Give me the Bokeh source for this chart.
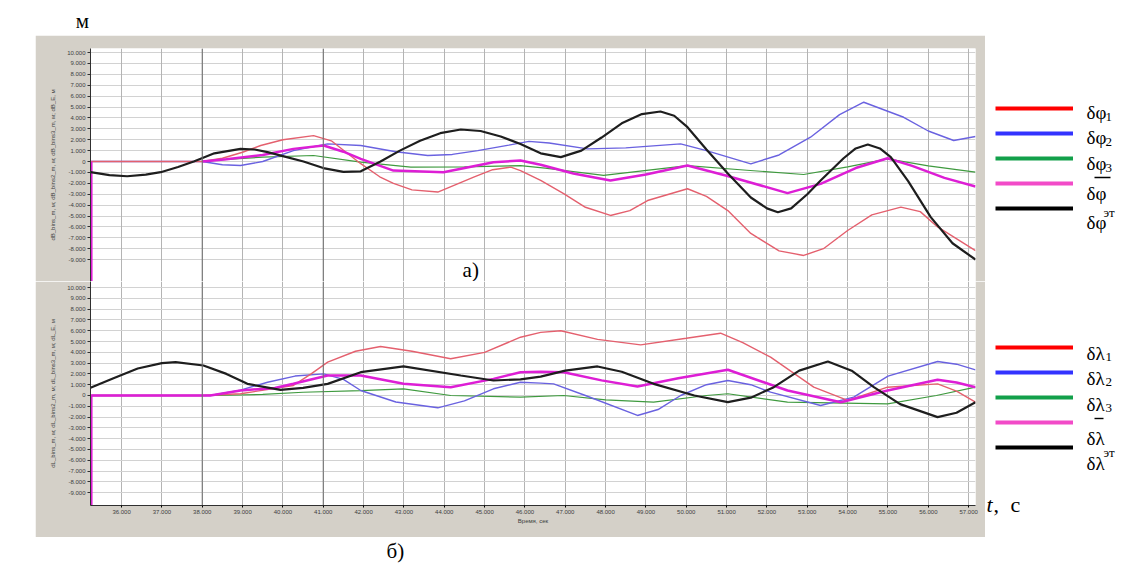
from bokeh.plotting import figure
from bokeh.layouts import column, row
from bokeh.models import (Range1d, FixedTicker, NumeralTickFormatter, Grid, Span, Label,
                          Legend, LegendItem, Spacer, BoxAnnotation)
from bokeh.embed import file_html
from bokeh.resources import INLINE

NAN = float("nan")

# ---------------- data ----------------
x_ticks = list(range(36, 58))
y_ticks = list(range(10, -10, -1))

# panel a) : latitude errors, m
phi1_t = [35.23, 38.0, 38.5, 39.0, 39.45, 40.0, 40.76, 41.2, 41.93, 42.4, 42.74, 43.2, 43.84, 44.3, 44.73, 45.2, 45.65,
          45.89, 46.39, 46.96, 47.5, 48.12, 48.6, 49.04, 50.03, 50.5, 51.03, 51.6, 52.3, 52.91, 53.4, 54.0, 54.6, 55.32,
          55.8, 56.23, 57.17]
phi1_v = [0, 0, 0.3, 0.85, 1.47, 2.0, 2.38, 1.9, -0.2, -1.4, -2.0, -2.6, -2.8, -2.1, -1.44, -0.75, -0.52,
          -0.83, -1.74, -2.95, -4.2, -4.95, -4.5, -3.58, -2.5, -3.2, -4.5, -6.6, -8.2, -8.62, -8.0, -6.33, -4.9, -4.19,
          -4.6, -6.0, -8.17]

phi2_t = [35.23, 38.0, 38.5, 38.95, 39.5, 40.26, 41.11, 41.93, 42.8, 43.59, 44.2, 44.83, 45.6, 46.1, 46.6, 47.55,
          48.5, 49.86, 50.5, 51.6, 52.3, 53.08, 53.8, 54.4, 55.39, 56.0, 56.63, 57.17]
phi2_v = [0, 0, -0.3, -0.37, 0.0, 1.0, 1.62, 1.47, 0.9, 0.55, 0.65, 1.0, 1.5, 1.85, 1.7, 1.16,
          1.25, 1.62, 1.0, -0.21, 0.6, 2.23, 4.3, 5.44, 4.06, 2.8, 1.93, 2.29]

phi3_t = [35.23, 38.0, 38.6, 39.5, 40.76, 41.93, 43.17, 44.5, 45.89, 46.5, 47.95, 50.03, 51.5, 52.91, 54.0, 54.99,
          56.0, 57.17]
phi3_v = [0, 0, 0.2, 0.4, 0.55, -0.06, -0.52, -0.5, -0.37, -0.6, -1.28, -0.37, -0.8, -1.19, -0.5, 0.24,
          -0.4, -0.98]

phim_t = [35.25, 35.25, NAN, 38.0, 38.6, 39.5, 40.26, 41.01, 41.5, 41.93, 42.74, 43.98, 45.22, 45.89, 46.39, 47.2,
          48.12, 49.0, 50.03, 51.0, 52.51, 53.33, 54.2, 54.99, 55.6, 56.4, 57.17]
phim_v = [-20, 0, NAN, 0, 0.2, 0.6, 1.16, 1.47, 0.9, 0.24, -0.83, -0.98, -0.06, 0.09, -0.3, -1.1,
          -1.74, -1.2, -0.37, -1.3, -2.9, -2.05, -0.6, 0.3, -0.4, -1.5, -2.3]

phie_t = [35.23, 35.7, 36.14, 36.6, 36.97, 37.4, 37.79, 38.3, 38.95, 39.3, 39.62, 40.0, 40.51, 41.0, 41.5, 41.93,
          42.42, 42.9, 43.4, 43.9, 44.41, 44.9, 45.4, 45.89, 46.39, 46.89, 47.4, 47.9, 48.4, 48.9, 49.36, 49.7,
          50.03, 50.5, 51.03, 51.6, 52.0, 52.27, 52.6, 53.0, 53.33, 53.9, 54.2, 54.5, 54.8, 55.07, 55.5, 56.06,
          56.6, 57.17]
phie_v = [-0.98, -1.25, -1.35, -1.2, -0.98, -0.5, 0.0, 0.75, 1.16, 1.1, 0.86, 0.5, 0.0, -0.6, -0.95, -0.9,
          0.0, 1.0, 1.9, 2.6, 2.94, 2.8, 2.3, 1.6, 0.75, 0.4, 1.0, 2.2, 3.5, 4.35, 4.59, 4.2,
          3.15, 1.1, -1.1, -3.3, -4.3, -4.65, -4.3, -3.0, -1.74, 0.3, 1.2, 1.56, 1.2, 0.4, -1.8, -5.1,
          -7.5, -9.0]

# panel б) : longitude errors, m
lam1_t = [35.23, 38.0, 38.95, 40.26, 40.7, 41.11, 41.8, 42.42, 43.2, 44.16, 45.0, 45.89, 46.39, 46.89, 47.8, 48.87,
          50.0, 50.85, 51.4, 52.09, 53.16, 54.0, 54.99, 56.23, 56.7, 57.17]
lam1_v = [0, 0, 0.16, 0.93, 2.0, 3.09, 4.1, 4.54, 4.1, 3.4, 4.0, 5.4, 5.85, 6.0, 5.2, 4.69,
          5.3, 5.77, 4.9, 3.55, 0.77, -0.46, 0.77, 1.08, 0.4, -0.62]

lam2_t = [35.23, 38.2, 38.95, 39.62, 40.3, 41.01, 41.5, 41.93, 42.8, 43.84, 44.5, 45.22, 45.89, 46.39, 46.71, 47.5,
          48.79, 49.3, 49.86, 50.5, 51.03, 51.6, 52.09, 53.33, 54.15, 55.0, 56.23, 56.7, 57.17]
lam2_v = [0, 0, 0.5, 1.23, 1.8, 2.0, 1.5, 0.46, -0.6, -1.14, -0.5, 0.62, 1.23, 1.15, 1.08, 0.0,
          -1.85, -1.3, 0.0, 1.0, 1.39, 1.0, 0.31, -0.93, -0.15, 1.8, 3.15, 2.9, 2.38]

lam3_t = [35.23, 38.3, 39.5, 40.5, 41.93, 42.99, 44.16, 45.89, 46.96, 48.0, 49.19, 50.5, 51.03, 52.51, 54.99, 56.2,
          57.17]
lam3_v = [0, 0, 0.1, 0.3, 0.46, 0.62, 0.0, -0.15, 0.0, -0.4, -0.62, 0.0, 0.16, -0.62, -0.77, 0.0,
          0.77]

lamm_t = [35.25, 35.25, 38.2, 38.95, 39.8, 40.26, 41.11, 41.93, 42.99, 44.16, 45.22, 45.89, 46.39, 46.96, 47.9,
          48.79, 49.8, 51.03, 52.51, 53.83, 54.99, 56.23, 56.7, 57.17]
lamm_v = [-20, 0, 0, 0.46, 0.7, 1.08, 1.85, 1.85, 1.08, 0.77, 1.54, 2.16, 2.2, 2.16, 1.4,
          0.83, 1.6, 2.38, 0.46, -0.62, 0.46, 1.45, 1.2, 0.77]

lame_t = [35.23, 35.8, 36.4, 37.0, 37.34, 38.03, 38.6, 39.12, 39.94, 40.5, 41.11, 41.93, 42.99, 44.41, 45.22, 45.89,
          46.39, 47.0, 47.8, 48.4, 49.19, 50.2, 51.03, 51.6, 52.17, 52.8, 53.51, 54.1, 54.65, 55.3, 56.23, 56.7,
          57.17]
lame_v = [0.71, 1.6, 2.5, 3.0, 3.09, 2.78, 2.0, 1.08, 0.52, 0.7, 1.08, 2.16, 2.69, 1.85, 1.39, 1.5,
          1.75, 2.3, 2.69, 2.2, 1.08, 0.0, -0.62, -0.2, 0.77, 2.3, 3.15, 2.3, 0.77, -0.8, -2.0, -1.6,
          -0.62]

# ---------------- styles ----------------
GRAY = "#d4d0c8"
SERIF = "Liberation Serif"
C_RED, C_BLUE, C_GREEN, C_MAG, C_BLK = "#e4606e", "#6a62e0", "#3f9a3f", "#dd1ed5", "#1e1e1e"
L_RED, L_BLUE, L_GREEN, L_MAG, L_BLK = "#ff0000", "#3333ff", "#12a04a", "#f24bc8", "#000000"


def make_panel(height, y0, y1, bottom, ylabel):
    p = figure(width=950, height=height, x_range=Range1d(35.23, 57.17), y_range=Range1d(y0, y1),
               output_backend="svg", toolbar_location=None,
               x_axis_type="linear" if bottom else None,
               min_border_left=55, min_border_right=10,
               min_border_top=0 if bottom else 13, min_border_bottom=32 if bottom else 0)
    p.background_fill_color = "white"
    p.border_fill_color = GRAY
    p.outline_line_color = None
    ya = p.yaxis[0]
    ya.ticker = FixedTicker(ticks=y_ticks)
    ya.formatter = NumeralTickFormatter(format="0.000")
    ya.major_label_overrides = {0: "0"}
    ya.major_label_text_font_size = "6px"
    ya.major_label_text_color = "#404040"
    ya.major_label_standoff = 2
    ya.axis_line_color = "#303030"
    ya.major_tick_out = 3
    ya.major_tick_in = 0
    ya.minor_tick_out = 0
    ya.minor_tick_in = 0
    ya.major_tick_line_color = "#303030"
    ya.axis_label = ylabel
    ya.axis_label_text_font_size = "6px"
    ya.axis_label_text_font_style = "normal"
    ya.axis_label_text_color = "#404040"
    ya.axis_label_standoff = 8
    p.ygrid.grid_line_color = "#d2d2d2"
    if bottom:
        xa = p.xaxis[0]
        xa.ticker = FixedTicker(ticks=x_ticks)
        xa.formatter = NumeralTickFormatter(format="0.000")
        xa.major_label_text_font_size = "6px"
        xa.major_label_text_color = "#404040"
        xa.major_label_standoff = 2
        xa.axis_line_color = "#303030"
        xa.major_tick_out = 2
        xa.major_tick_in = 0
        xa.minor_tick_out = 0
        xa.minor_tick_in = 0
        xa.axis_label = "Время, сек"
        xa.axis_label_text_font_size = "6px"
        xa.axis_label_text_font_style = "normal"
        xa.axis_label_text_color = "#404040"
        xa.axis_label_standoff = 1
        p.xgrid.grid_line_color = "#b4b4b4"
    else:
        p.add_layout(Grid(dimension=0, ticker=FixedTicker(ticks=x_ticks), grid_line_color="#b4b4b4"))
    for loc in (38, 41):
        p.add_layout(Span(location=loc, dimension="height", line_color="#6e6e6e", line_width=1))
    return p


top = make_panel(246, -11.01, 10.37, False, "dB_bins_m, м; dB_bins2_m, м; dB_bins3_m, м; dB_E, м")
bot = make_panel(256, -10.19, 10.56, True, "dL_bins_m, м; dL_bins2_m, м; dL_bins3_m, м; dL_E, м")

top.line(phi3_t, phi3_v, line_color=C_GREEN, line_width=1.2)
top.line(phi2_t, phi2_v, line_color=C_BLUE, line_width=1.4)
top.line(phi1_t, phi1_v, line_color=C_RED, line_width=1.4)
top.line(phim_t, phim_v, line_color=C_MAG, line_width=2.5)
top.line(phie_t, phie_v, line_color=C_BLK, line_width=2.2)

bot.line(lam3_t, lam3_v, line_color=C_GREEN, line_width=1.2)
bot.line(lam2_t, lam2_v, line_color=C_BLUE, line_width=1.4)
bot.line(lam1_t, lam1_v, line_color=C_RED, line_width=1.4)
bot.line(lamm_t, lamm_v, line_color=C_MAG, line_width=2.5)
bot.line(lame_t, lame_v, line_color=C_BLK, line_width=2.2)

top.add_layout(Label(x=44.455, y=-9.95, text="а)", text_font=SERIF, text_font_size="21px",
                     text_baseline="middle", text_align="left", text_color="black"))

# ---------------- right side: legends ----------------
RF_X0, RF_Y1 = 985, 537          # page position of right panel (left edge, bottom edge)
rf = figure(width=140, height=502, x_range=Range1d(0, 1), y_range=Range1d(0, 1),
            output_backend="svg", toolbar_location=None, x_axis_type=None, y_axis_type=None, min_border=0)
rf.outline_line_color = None
rf.background_fill_color = "white"
rf.border_fill_color = "white"


def add_legend(colors, vy):
    items = []
    for c in colors:
        # legend-only renderers: kept outside the visible range
        r = rf.line(x=[-5, -4], y=[-5, -5], line_color=c, line_width=4)
        items.append(LegendItem(label=" ", renderers=[r]))
    lg = Legend(items=items, location=(10, vy), orientation="vertical", glyph_width=78, glyph_height=20,
                label_height=20, label_width=1, spacing=5, padding=0, margin=0, label_standoff=0,
                label_text_font_size="6px", border_line_color=None, background_fill_alpha=0)
    rf.add_layout(lg)


add_legend([L_RED, L_BLUE, L_GREEN, L_MAG, L_BLK], 319)
add_legend([L_RED, L_BLUE, L_GREEN, L_MAG, L_BLK], 80)


def rlabel(text, px, py, size, style="normal"):
    rf.add_layout(Label(x=px - RF_X0, y=RF_Y1 - py, x_units="screen", y_units="screen", text=text,
                        text_font=SERIF, text_font_size=f"{size}px", text_font_style=style,
                        text_baseline="alphabetic", text_align="left", text_color="black"))


def overline(px0, px1, py):
    rf.add_layout(BoxAnnotation(left=px0 - RF_X0, right=px1 - RF_X0, bottom=RF_Y1 - py - 0.7,
                                top=RF_Y1 - py + 0.7, left_units="screen", right_units="screen",
                                bottom_units="screen", top_units="screen", fill_color="black",
                                fill_alpha=1, line_color=None))


for base, sub in ((112, "1"), (137, "2"), (163, "3")):
    rlabel("δφ", 1086, base, 19)
    rlabel(sub, 1105, base + 4, 13)
rlabel("δφ", 1086, 193, 19)
overline(1094, 1110, 177)
rlabel("δφ", 1086, 222, 19)
rlabel("эт", 1103, 212, 13)

for base, sub in ((353, "1"), (378, "2"), (404, "3")):
    rlabel("δλ", 1086, base, 19)
    rlabel(sub, 1105, base + 3, 13)
rlabel("δλ", 1086, 438, 19)
overline(1094, 1103, 418)
rlabel("δλ", 1086, 463, 19)
rlabel("эт", 1103, 452, 13)

rlabel("t", 986, 504, 22, "italic")
rlabel(",", 993, 504, 22)
rlabel("с", 1010, 504, 22)

# ---------------- strips ----------------
ts = figure(width=1125, height=35, x_range=Range1d(0, 1), y_range=Range1d(0, 1), output_backend="svg",
            toolbar_location=None, x_axis_type=None, y_axis_type=None, min_border=0)
ts.outline_line_color = None
ts.add_layout(Label(x=82, y=15, x_units="screen", y_units="screen", text="м", text_font=SERIF,
                    text_font_size="21px", text_baseline="middle", text_align="center", text_color="black"))

bs = figure(width=1125, height=29, x_range=Range1d(0, 1), y_range=Range1d(0, 1), output_backend="svg",
            toolbar_location=None, x_axis_type=None, y_axis_type=None, min_border=0)
bs.outline_line_color = None
bs.add_layout(Label(x=386, y=16, x_units="screen", y_units="screen", text="б)", text_font=SERIF,
                    text_font_size="21px", text_baseline="middle", text_align="left", text_color="black"))

root = column(ts, row(Spacer(width=35, height=502), column(top, bot), rf), bs)

open("out.html", "w").write(file_html(root, INLINE))
